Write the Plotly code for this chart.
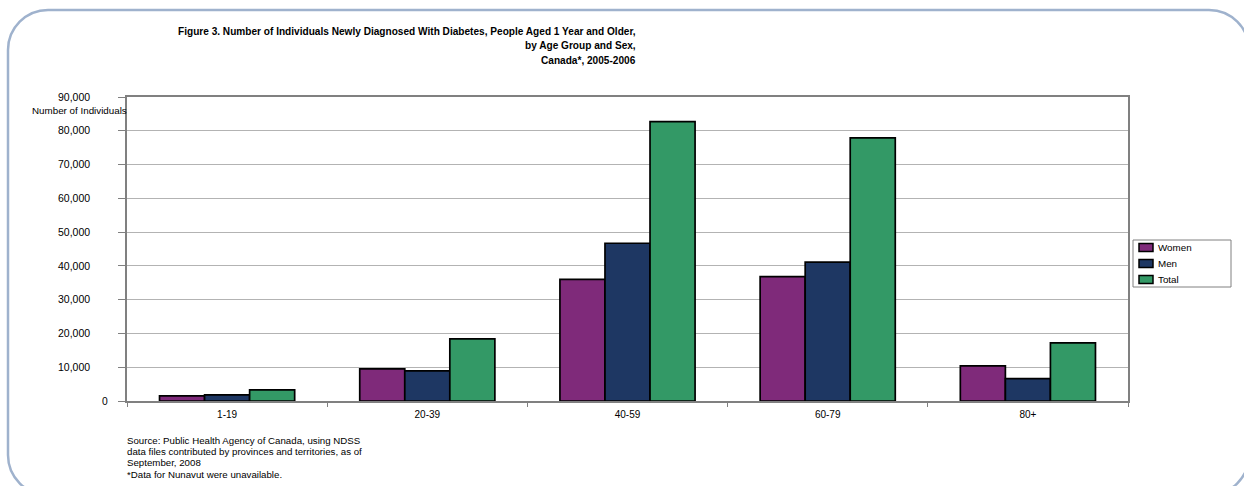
import plotly.graph_objects as go

categories = ["1-19", "20-39", "40-59", "60-79", "80+"]
women = [1500, 9500, 36000, 36800, 10400]
men = [1800, 8900, 46700, 41100, 6600]
total = [3300, 18400, 82700, 77900, 17200]
series_names = ["Women", "Men", "Total"]
series_colors = ["#7f2a7a", "#1e3763", "#339966"]
y_ticks = [0, 10000, 20000, 30000, 40000, 50000, 60000, 70000, 80000, 90000]
y_ticktext = ["", "10,000", "20,000", "30,000", "40,000", "50,000", "60,000", "70,000", "80,000", "90,000"]

title_lines = [
    "Figure 3. Number of Individuals Newly Diagnosed With Diabetes, People Aged 1 Year and Older,",
    "by Age Group and Sex,",
    "Canada*, 2005-2006",
]
source_lines = [
    "Source: Public Health Agency of Canada, using NDSS",
    "data files contributed by provinces and territories, as of",
    "September, 2008",
    "*Data for Nunavut were unavailable.",
]

W, H = 1244, 486
L, R, T, B = 127, 116, 97, 85
PW, PH = W - L - R, H - T - B
FONT = "Arial, Liberation Sans, sans-serif"


def px(x):
    return (x - L) / PW


def py(y):
    return (H - B - y) / PH


fig = go.Figure()
for name, vals, col in zip(series_names, [women, men, total], series_colors):
    fig.add_trace(go.Bar(x=categories, y=vals, name=name, showlegend=False,
                         marker=dict(color=col, line=dict(color="#000000", width=1.7))))

# rounded card outline
x0, y0, x1, y1, r = 8, 10, 1249, 495, 40
k = 0.5523 * r


def P(x, y):
    return f"{px(x):.5f},{py(y):.5f}"


path = (f"M {P(x0 + r, y0)} L {P(x1 - r, y0)} "
        f"C {P(x1 - r + k, y0)} {P(x1, y0 + r - k)} {P(x1, y0 + r)} "
        f"L {P(x1, y1 - r)} "
        f"C {P(x1, y1 - r + k)} {P(x1 - r + k, y1)} {P(x1 - r, y1)} "
        f"L {P(x0 + r, y1)} "
        f"C {P(x0 + r - k, y1)} {P(x0, y1 - r + k)} {P(x0, y1 - r)} "
        f"L {P(x0, y0 + r)} "
        f"C {P(x0, y0 + r - k)} {P(x0 + r - k, y0)} {P(x0 + r, y0)} Z")

shapes = [dict(type="path", xref="paper", yref="paper", path=path,
               line=dict(color="#9fb2cd", width=2.5), layer="below")]

annotations = []
for i, line in enumerate(title_lines):
    annotations.append(dict(text=f"<b>{line}</b>", xref="paper", yref="paper",
                            x=px(638), y=py(32 + 14 * i), xanchor="right", yanchor="middle",
                            showarrow=False, font=dict(family=FONT, size=10.1, color="#000000")))
annotations.append(dict(text="Number of Individuals", xref="paper", yref="paper",
                        x=px(129), y=py(110), xanchor="right", yanchor="middle",
                        showarrow=False, font=dict(family=FONT, size=9.8, color="#000000")))
annotations.append(dict(text="0", xref="paper", yref="y", x=px(110), y=0,
                        xanchor="right", yanchor="middle", showarrow=False,
                        font=dict(family=FONT, size=10.3, color="#000000")))
for i, line in enumerate(source_lines):
    annotations.append(dict(text=line, xref="paper", yref="paper", x=px(125), y=py(440 + 11.4 * i),
                            xanchor="left", yanchor="middle", align="left", showarrow=False,
                            font=dict(family=FONT, size=9.7, color="#000000")))

# custom legend box
lx0, ly0, lx1, ly1 = 1133, 240, 1231, 287
shapes.append(dict(type="rect", xref="paper", yref="paper",
                   x0=px(lx0), x1=px(lx1), y0=py(ly1), y1=py(ly0),
                   line=dict(color="#808080", width=1), fillcolor="#ffffff"))
for i, (name, col) in enumerate(zip(series_names, series_colors)):
    cy = 247.5 + 16 * i
    shapes.append(dict(type="rect", xref="paper", yref="paper",
                       x0=px(1139), x1=px(1153), y0=py(cy + 4), y1=py(cy - 4),
                       line=dict(color="#000000", width=1.5), fillcolor=col))
    annotations.append(dict(text=name, xref="paper", yref="paper", x=px(1156), y=py(cy),
                            xanchor="left", yanchor="middle", showarrow=False,
                            font=dict(family=FONT, size=9.8, color="#000000")))

fig.update_layout(
    width=W, height=H,
    margin=dict(l=L, r=R, t=T, b=B, pad=0),
    paper_bgcolor="#ffffff", plot_bgcolor="#ffffff",
    font=dict(family=FONT, size=9.8, color="#000000"),
    barmode="group", bargap=0.325, bargroupgap=0,
    showlegend=False,
    shapes=shapes, annotations=annotations,
    xaxis=dict(type="category", tickson="boundaries", ticks="outside", ticklen=4,
               tickcolor="#808080", showline=True, linecolor="#808080", linewidth=1.5,
               mirror=True, showgrid=False, ticklabelstandoff=3,
               tickfont=dict(family=FONT, size=10)),
    yaxis=dict(range=[0, 90000], tickvals=y_ticks, ticktext=y_ticktext,
               ticks="outside", ticklen=7, tickcolor="#808080",
               showline=True, linecolor="#808080", linewidth=1.5, mirror=True,
               gridcolor="#b3b3b3", gridwidth=1, zeroline=False,
               ticklabelstandoff=26, tickfont=dict(family=FONT, size=10.5)),
)

fig.write_html("out.html")
